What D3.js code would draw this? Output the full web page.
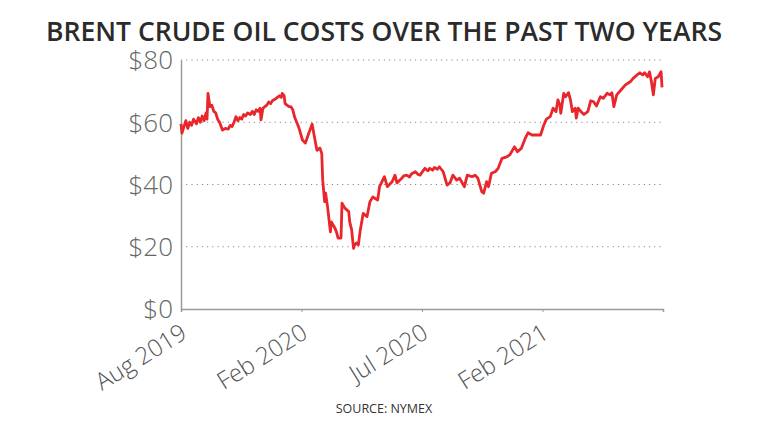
<!DOCTYPE html>
<html>
<head>
<meta charset="utf-8">
<script src="https://cdn.jsdelivr.net/npm/d3@7"></script>
<style>
  html, body { margin: 0; padding: 0; background: #fff; }
  svg { display: block; }
</style>
</head>
<body>
<svg id="chart" width="768" height="432"></svg>
<script>
// ---- data (trading-day index, Brent price USD) ----
const days = [0,1,3,5,7,9,11,13,16,18,20,22,24,26,27,28,30,32,34,36,38,40,43,46,49,51,53,55,57,59,61,63,65,67,69,72,74,76,78,80,82,83,85,87,89,91,93,95,98,100,102,104,105,107,108,110,112,114,116,118,120,122,123,126,129,132,136,139,141,144,146,147,149,150,152,155,156,159,161,163,166,167,170,174,175,177,179,180,182,184,186,189,193,196,199,204,206,211,214,219,222,224,229,231,234,237,239,243,246,248,253,256,258,261,263,266,268,272,276,279,282,286,289,294,297,302,305,308,312,314,317,319,322,326,329,333,338,341,346,349,353,357,360,364,369,373,376,379,383,386,389,391,393,394,397,399,402,404,406,409,410,412,415,418,422,425,428,431,435,438,442,445,447,449,452,457,461,466,469,473,476,479,481,484,486,488,490,492,495,498,499];
const prices = [59.5,56.5,58.5,60.5,58,60,59,61,59.5,61.5,60,62,60.5,63,61,69.3,65,65.5,63.5,63,61,60,57.5,58,57.8,59,58.6,60,61.8,60.5,61.5,61,62.5,62,63,62.5,63.5,62.5,64,63.5,64.5,60.8,64.5,65,65.5,66.5,66,67,67.5,68,68.5,68,69.3,68.5,66,65.5,65,65,64,61.5,60,58.5,57.5,54.3,53.3,56,59.4,54.3,51,51.7,50,41.4,34.5,37.2,32.9,24.8,28,26.4,25,22.8,22.8,34,32.4,31.3,28,25.4,19.5,20.5,21.2,20.6,25.4,30.7,29.7,34.5,36,35,39.3,42.5,39.3,40.9,43,40.5,42,42.8,43,42.4,43.4,44.1,43.2,43,45.2,44.4,45.2,44.6,45.5,44.9,45.7,44.1,39.8,40.5,43,41.4,42,39.3,43,42.5,43,42,37.7,37.2,40.9,39.3,43.6,44.1,45.2,48.4,48.9,49.5,52.1,50.5,51.6,54.8,56.6,55.9,55.9,55.9,58.8,61,61.8,64.5,63.4,67.2,65.5,62.9,69.3,68.2,69.5,67.2,63.4,64.5,61.3,64.5,63.4,62.5,63.4,66.9,66.6,65.2,68.2,67.7,69.3,68.8,69.5,65,68.8,70.6,72,73,74.1,75.2,75.9,75.2,75.9,74.6,76.2,73,68.8,74.1,74.6,76.2,71.2];
const xTickDays = [0,125,250,375];
const xTickLabels = ["Aug 2019","Feb 2020","Jul 2020","Feb 2021"];
const yTicks = [0,20,40,60,80];
const titleText = "BRENT CRUDE OIL COSTS OVER THE PAST TWO YEARS";
const sourceText = "SOURCE: NYMEX";

(function () {
  const series = days.map((d, i) => ({ d: d, v: prices[i] }));

  const svg = d3.select("#chart");
  const mLeft = 181, mRight = 663, mTop = 60, mBottom = 309;

  const x = d3.scaleLinear().domain([0, 500]).range([mLeft, mRight]);
  const y = d3.scaleLinear().domain([0, 80]).range([mBottom, mTop]);

  // title
  svg.append("text")
    .attr("x", 384).attr("y", 41)
    .attr("text-anchor", "middle")
    .attr("font-family", "'Open Sans', sans-serif")
    .attr("font-weight", 600)
    .attr("font-size", 26.5)
    .attr("fill", "#2b2b2b")
    .attr("textLength", 676)
    .attr("lengthAdjust", "spacingAndGlyphs")
    .text(titleText);

  // gridlines (dotted)
  svg.append("g")
    .selectAll("line")
    .data(yTicks.filter(t => t > 0))
    .join("line")
    .attr("x1", mLeft).attr("x2", mRight)
    .attr("y1", d => y(d)).attr("y2", d => y(d))
    .attr("stroke", "#8a8a8a")
    .attr("stroke-width", 1)
    .attr("stroke-dasharray", "1.2,4");

  // y axis
  const yAxis = svg.append("g")
    .attr("transform", `translate(${mLeft},0)`)
    .call(d3.axisLeft(y).tickValues(yTicks).tickSize(0).tickPadding(8).tickFormat(d => "$" + d));
  yAxis.select(".domain").attr("stroke", "#9a9a9a").attr("stroke-width", 1.5);
  yAxis.selectAll("text")
    .attr("font-family", "'Open Sans', sans-serif")
    .attr("font-weight", 300)
    .attr("font-size", 26)
    .attr("fill", "#666")
    .attr("dy", "0.34em");

  // x axis
  const xAxis = svg.append("g")
    .attr("transform", `translate(0,${mBottom})`)
    .call(d3.axisBottom(x).tickValues(xTickDays).tickSize(3).tickFormat((d, i) => xTickLabels[i]));
  xAxis.select(".domain").attr("stroke", "#9a9a9a").attr("stroke-width", 1.5);
  xAxis.selectAll(".tick line").attr("stroke", "#9a9a9a");
  xAxis.selectAll("text")
    .attr("font-family", "'Open Sans', sans-serif")
    .attr("font-weight", 300)
    .attr("font-size", 24)
    .attr("fill", "#555")
    .attr("text-anchor", "end")
    .attr("y", 0).attr("dy", 0)
    .attr("transform", "translate(7,28) rotate(-32)");

  // line
  svg.append("path")
    .datum(series)
    .attr("fill", "none")
    .attr("stroke", "#e8262b")
    .attr("stroke-width", 2.8)
    .attr("stroke-linejoin", "round")
    .attr("d", d3.line().x(p => x(p.d)).y(p => y(p.v)));

  // source
  svg.append("text")
    .attr("x", 384).attr("y", 413)
    .attr("text-anchor", "middle")
    .attr("font-family", "'Open Sans', sans-serif")
    .attr("font-size", 12.5)
    .attr("fill", "#333")
    .text(sourceText);
})();
</script>
</body>
</html>
